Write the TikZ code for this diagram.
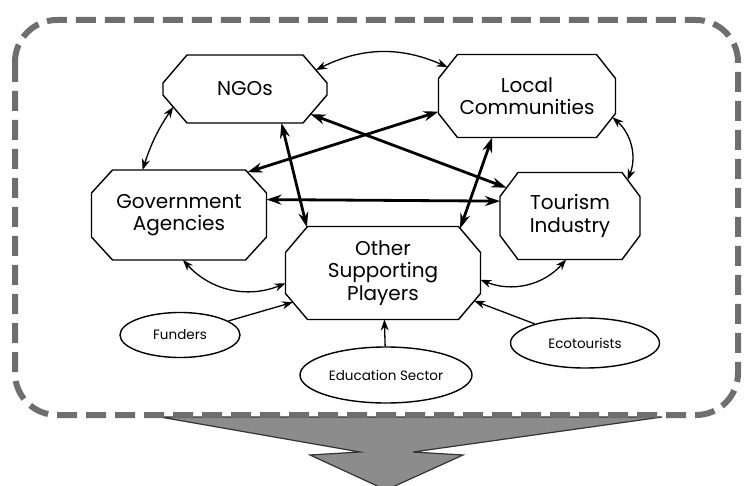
\documentclass[tikz,border=0pt]{standalone}
\usepackage{fontspec}
\setmainfont{Poppins}
\usetikzlibrary{shapes.geometric,arrows.meta}

\definecolor{dashgray}{HTML}{6E6E6E}
\definecolor{arrowgray}{HTML}{8C8C8C}

% octagon box with cut corners
\makeatletter
\pgfkeys{/pgf/octo cut x/.initial=20pt, /pgf/octo cut y/.initial=24pt}
\pgfdeclareshape{octo}{%
  \inheritsavedanchors[from=rectangle]%
  \inheritanchor[from=rectangle]{center}%
  \inheritanchor[from=rectangle]{north}%
  \inheritanchor[from=rectangle]{south}%
  \inheritanchor[from=rectangle]{east}%
  \inheritanchor[from=rectangle]{west}%
  \inheritanchor[from=rectangle]{text}%
  \inheritanchor[from=rectangle]{base}%
  \inheritanchor[from=rectangle]{mid}%
  \saveddimen\octocx{\pgfmathsetlength\pgf@x{\pgfkeysvalueof{/pgf/octo cut x}}}%
  \saveddimen\octocy{\pgfmathsetlength\pgf@x{\pgfkeysvalueof{/pgf/octo cut y}}}%
  \backgroundpath{%
    \southwest \pgf@xa=\pgf@x \pgf@ya=\pgf@y
    \northeast \pgf@xb=\pgf@x \pgf@yb=\pgf@y
    \edef\oxl{\the\pgf@xa}\edef\oyb{\the\pgf@ya}\edef\oxr{\the\pgf@xb}\edef\oyt{\the\pgf@yb}%
    \advance\pgf@xa by\octocx \advance\pgf@xb by-\octocx
    \advance\pgf@ya by\octocy \advance\pgf@yb by-\octocy
    \edef\oxli{\the\pgf@xa}\edef\oybi{\the\pgf@ya}\edef\oxri{\the\pgf@xb}\edef\oyti{\the\pgf@yb}%
    \pgfpathmoveto{\pgfqpoint{\oxli}{\oyb}}%
    \pgfpathlineto{\pgfqpoint{\oxri}{\oyb}}%
    \pgfpathlineto{\pgfqpoint{\oxr}{\oybi}}%
    \pgfpathlineto{\pgfqpoint{\oxr}{\oyti}}%
    \pgfpathlineto{\pgfqpoint{\oxri}{\oyt}}%
    \pgfpathlineto{\pgfqpoint{\oxli}{\oyt}}%
    \pgfpathlineto{\pgfqpoint{\oxl}{\oyti}}%
    \pgfpathlineto{\pgfqpoint{\oxl}{\oybi}}%
    \pgfpathclose
  }%
  \anchorborder{%
    \pgfpointnormalised{\pgfqpoint{\pgf@x}{\pgf@y}}%
    \edef\odx{\pgf@sys@tonumber\pgf@x}\edef\ody{\pgf@sys@tonumber\pgf@y}%
    \northeast \pgf@xa=\pgf@x \pgf@ya=\pgf@y
    \southwest \pgf@xb=\pgf@x \pgf@yb=\pgf@y
    \edef\oa{\pgf@sys@tonumber\pgf@xa}\edef\ob{\pgf@sys@tonumber\pgf@ya}%
    \edef\oc{\pgf@sys@tonumber\pgf@xb}\edef\od{\pgf@sys@tonumber\pgf@yb}%
    \pgfmathsetmacro\ohx{(\oa-\oc)/2}\pgfmathsetmacro\ohy{(\ob-\od)/2}%
    \pgfmathsetmacro\ocx{\octocx}\pgfmathsetmacro\ocy{\octocy}%
    \pgfmathsetmacro\otx{\ohx/max(abs(\odx),0.01)}%
    \pgfmathsetmacro\oty{\ohy/max(abs(\ody),0.01)}%
    \pgfmathsetmacro\otc{(\ohx*\ocy+\ohy*\ocx-\ocx*\ocy)/(abs(\odx)*\ocy+abs(\ody)*\ocx)}%
    \pgfmathsetmacro\ot{min(\otx,\oty,\otc)}%
    \pgfmathsetlength\pgf@x{(\oa+\oc)/2+\ot*\odx}%
    \pgfmathsetlength\pgf@y{(\ob+\od)/2+\ot*\ody}%
  }%
}
\makeatother

\tikzset{
  player/.style={octo, draw, line width=1.4pt, inner sep=0pt, outer sep=0pt,
    align=center, font=\fontsize{20}{22.5}\selectfont},
  minor/.style={ellipse, draw, line width=1.4pt, inner sep=0pt,
    font=\fontsize{13.5}{15}\selectfont},
  link/.style={{Stealth[length=11pt,width=8pt]}-{Stealth[length=11pt,width=8pt]}, line width=1.3pt},
  strong/.style={{Stealth[length=15pt,width=10pt]}-{Stealth[length=15pt,width=10pt]}, line width=2.8pt},
  feed/.style={-{Stealth[length=11pt,width=8pt]}, line width=1.3pt}
}

\begin{document}
\begin{tikzpicture}[x=1pt, y=-1pt]
\useasboundingbox (0,0) rectangle (744,486);

% Big arrow and frame
\draw[fill=arrowgray, draw=black!80, line width=1.2pt]
  (160,417) -- (360,452) -- (310,455) -- (386,490) -- (463,455) -- (413,452) -- (662,417) -- cycle;
\draw[dashgray, line width=6pt, dash pattern=on 20pt off 9pt, rounded corners=42pt]
  (15,20) rectangle (738,415);

% Define nodes

\node[player, minimum width=164pt, minimum height=68pt, octo cut x=24pt, octo cut y=28pt] (ngo) at (245,89) {NGOs};
\node[player, minimum width=177pt, minimum height=83pt, octo cut x=19pt, octo cut y=24pt] (local) at (527,96) {Local\\Communities};
\node[player, minimum width=175pt, minimum height=90pt, octo cut x=21pt, octo cut y=23pt] (gov) at (179,215) {Government\\Agencies};
\node[player, minimum width=140pt, minimum height=87pt, octo cut x=18pt, octo cut y=24pt] (tour) at (570,216) {Tourism\\Industry};
\node[player, minimum width=195pt, minimum height=93pt, octo cut x=22pt, octo cut y=26pt] (other) at (383,273) {Other\\Supporting\\Players};

\node[minor, minimum width=120pt, minimum height=45pt] (fund) at (180,335) {Funders};
\node[minor, minimum width=172pt, minimum height=56pt] (edu)  at (386,375) {Education Sector};
\node[minor, minimum width=149pt, minimum height=50pt] (eco)  at (585,343) {Ecotourists};

% Connect the nodes
\draw[link] (ngo.15) to[bend left=25] (local.160) ; %
\draw[link] (ngo.194) to[bend right=8] (gov.129) ; %
\draw[link] (local.346) to[bend left=35] (tour.32) ; %
\draw[link] (gov.275) to[bend right=35] (other.186) ; %
\draw[link] (other.356) to[bend right=35] (tour.265) ; %

\draw[feed] (fund) -- (other.198) ; %
\draw[feed] (edu) -- (other) ; %
\draw[feed] (eco) -- (other.343) ; %

\draw[strong] (gov.10) -- (tour.168) ; %
\draw[strong] (ngo.317) -- (other.149) ; %
\draw[strong] (local.230) -- (other.30) ; %
\draw[strong] (gov.32) -- (local.190) ; %
\draw[strong] (ngo.339) -- (tour.156) ; %

\end{tikzpicture}
\end{document}
